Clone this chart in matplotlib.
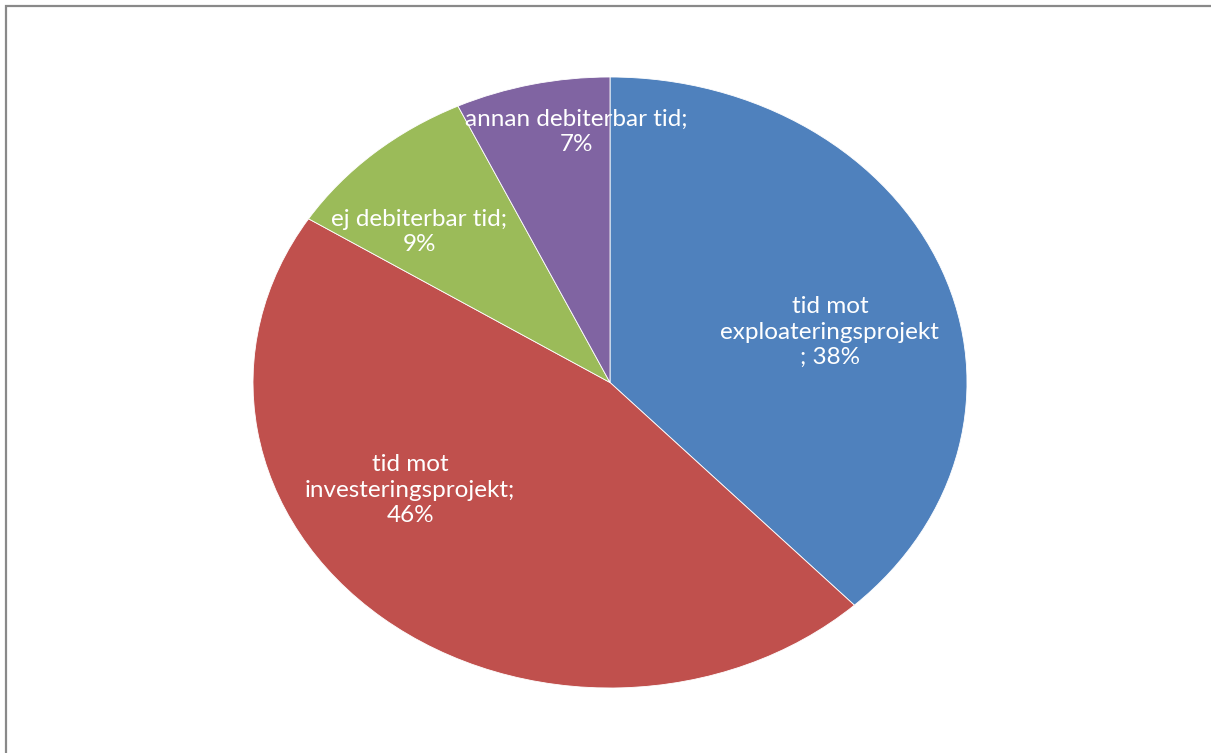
import matplotlib.pyplot as plt
import matplotlib.patches as mpatches

# Data
labels = ["tid mot\nexploateringsprojekt\n; 38%",
          "tid mot\ninvesteringsprojekt;\n46%",
          "ej debiterbar tid;\n9%",
          "annan debiterbar tid;\n7%"]
values = [38, 46, 9, 7]
colors = ["#4F81BD", "#C0504D", "#9BBB59", "#8064A2"]

# label centres (axes data coords, pie radius = 1)
label_pos = [(0.616, 0.165), (-0.56, -0.352), (-0.535, 0.493), (-0.095, 0.82)]

W, H = 1211, 753
fig = plt.figure(figsize=(W / 100, H / 100), dpi=100)

# elliptical pie: axes sized to the ellipse, aspect left on auto
left, right, top, bottom = 253, 967, 77, 688
ax = fig.add_axes([left / W, 1 - bottom / H, (right - left) / W, (bottom - top) / H])
ax.pie(values, colors=colors, startangle=90, counterclock=False, radius=1,
       wedgeprops=dict(edgecolor="white", linewidth=0.6))
ax.set_aspect("auto")
ax.set_xlim(-1, 1)
ax.set_ylim(-1, 1)
ax.axis("off")

for txt, (x, y) in zip(labels, label_pos):
    ax.text(x, y, txt, ha="center", va="center", color="white",
            fontsize=17.5, family="Lato", linespacing=1.27)

# chart frame (only top and left edges visible)
frame = mpatches.Rectangle((6 / W, -0.5), 2, 1.5 - 6 / H, transform=fig.transFigure,
                           fill=False, edgecolor="#898989", linewidth=1.6)
fig.add_artist(frame)

fig.savefig("out.png", dpi=100, facecolor="white")
